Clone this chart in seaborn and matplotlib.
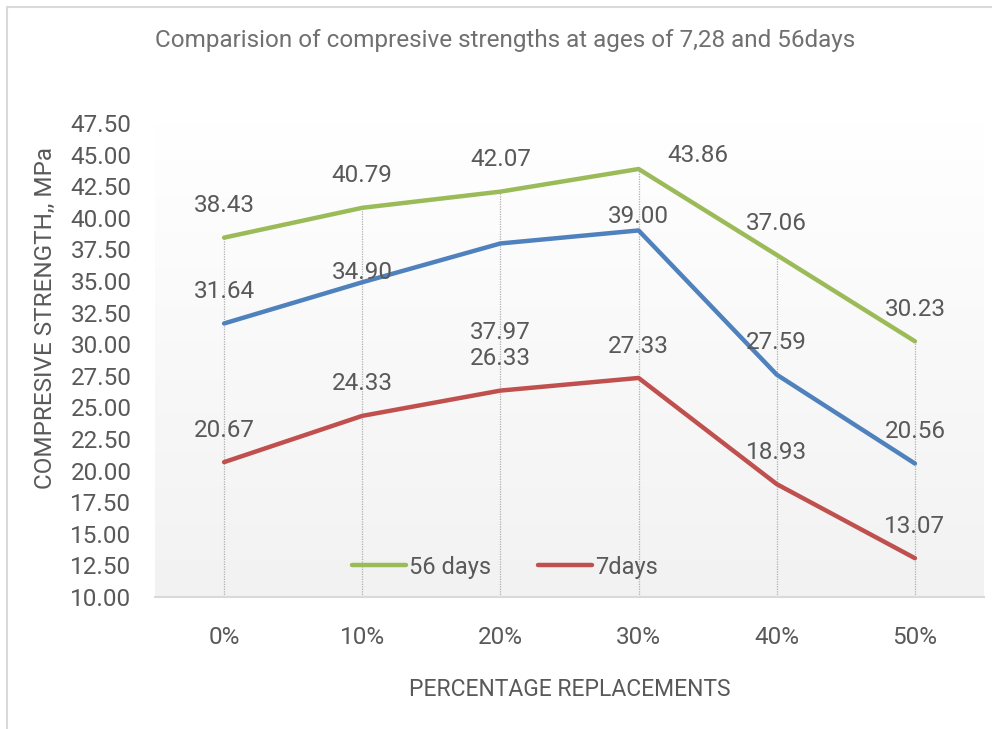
import numpy as np
import pandas as pd
import matplotlib
matplotlib.use("Agg")
import matplotlib.pyplot as plt
import seaborn as sns
from matplotlib.lines import Line2D

categories = ["0%", "10%", "20%", "30%", "40%", "50%"]
days56 = [38.43, 40.79, 42.07, 43.86, 37.06, 30.23]
days28 = [31.64, 34.90, 37.97, 39.00, 27.59, 20.56]
days7 = [20.67, 24.33, 26.33, 27.33, 18.93, 13.07]
series_names = ["56 days", "28 days", "7days"]
yticks = [10.0 + 2.5 * i for i in range(16)]

df = pd.DataFrame({
    "cat": categories * 3,
    "x": list(range(len(categories))) * 3,
    "value": days56 + days28 + days7,
    "series": [series_names[0]] * 6 + [series_names[1]] * 6 + [series_names[2]] * 6,
})

sns.set_theme(style="white")
plt.rcParams["font.family"] = ["Roboto", "DejaVu Sans"]

TXT = "#595959"
colors = {"56 days": "#9BBB59", "28 days": "#4F81BD", "7days": "#C0504D"}

fig = plt.figure(figsize=(9.92, 7.29), dpi=100)
ax = fig.add_axes([155 / 992, 132 / 729, (984 - 155) / 992, (597 - 123) / 729])

# gradient background
grad = np.linspace(0, 1, 256).reshape(-1, 1)
ax.imshow(grad, extent=[0, 1, 0, 1], transform=ax.transAxes, aspect="auto",
          cmap=matplotlib.colors.LinearSegmentedColormap.from_list("g", ["#f2f2f2", "#ffffff"]),
          origin="lower", zorder=0)

sns.lineplot(data=df, x="x", y="value", hue="series", palette=colors, linewidth=3.2,
             ax=ax, legend=False, zorder=3, solid_capstyle="round")

# drop lines
tops = np.maximum.reduce([days56, days28, days7])
for i, t in enumerate(tops):
    ax.vlines(i, 10, t, colors="#b0b0b0", linestyles=(0, (1, 1)), linewidth=0.9, zorder=1)

ax.set_xlim(-0.5, len(categories) - 0.5)
ax.set_ylim(10, 47.5)
ax.set_yticks(yticks)
ax.set_yticklabels([f"{v:.2f}" for v in yticks])
ax.set_xticks(range(len(categories)))
ax.set_xticklabels(categories)
ax.tick_params(axis="both", labelsize=17.5, colors=TXT, length=0)
ax.tick_params(axis="x", pad=21)
ax.tick_params(axis="y", pad=17)
for s in ["top", "right", "left"]:
    ax.spines[s].set_visible(False)
ax.spines["bottom"].set_color("#d9d9d9")
ax.spines["bottom"].set_linewidth(1.5)
ax.set_xlabel("")
ax.set_ylabel("")

# data labels (offsets in points)
default_off = (0, 23)
special = {("56 days", 3): (43, 10), ("28 days", 1): (0, 7), ("28 days", 2): (0, -64),
           ("28 days", 3): (0, 10)}
for name, vals in zip(series_names, [days56, days28, days7]):
    for i, v in enumerate(vals):
        off = special.get((name, i), default_off)
        ax.annotate(f"{v:.2f}", (i, v), xytext=off, textcoords="offset points",
                    ha="center", va="center", fontsize=17.5, color=TXT, zorder=5)

# legend (only 56 days and 7days)
handles = [Line2D([0], [0], color=colors["56 days"], lw=3.2, solid_capstyle="round"),
           Line2D([0], [0], color=colors["7days"], lw=3.2, solid_capstyle="round")]
leg = ax.legend(handles, ["56 days", "7days"], loc="center", bbox_to_anchor=(0.422, 0.063),
                ncol=2, frameon=False, fontsize=17, handlelength=2.3, handletextpad=0.1,
                columnspacing=2.0)
for t in leg.get_texts():
    t.set_color(TXT)

fig.text(505 / 992, 1 - 40 / 729, "Comparision of compresive strengths at ages of 7,28 and 56days",
         ha="center", va="center", fontsize=17.5, color="#707070")
fig.text(570 / 992, 1 - 689 / 729, "PERCENTAGE REPLACEMENTS", ha="center", va="center",
         fontsize=16.5, color=TXT)
fig.text(45 / 992, 1 - 318 / 729, "COMPRESIVE STRENGTH,, MPa", ha="center", va="center",
         rotation=90, fontsize=17.5, color=TXT)

# outer border (left and top)
fig.add_artist(Line2D([7 / 992, 7 / 992], [0, 1 - 7 / 729], color="#d9d9d9", lw=1.5,
                      transform=fig.transFigure))
fig.add_artist(Line2D([7 / 992, 1], [1 - 7 / 729, 1 - 7 / 729], color="#d9d9d9", lw=1.5,
                      transform=fig.transFigure))

fig.savefig("out.png", dpi=100, facecolor="white")
